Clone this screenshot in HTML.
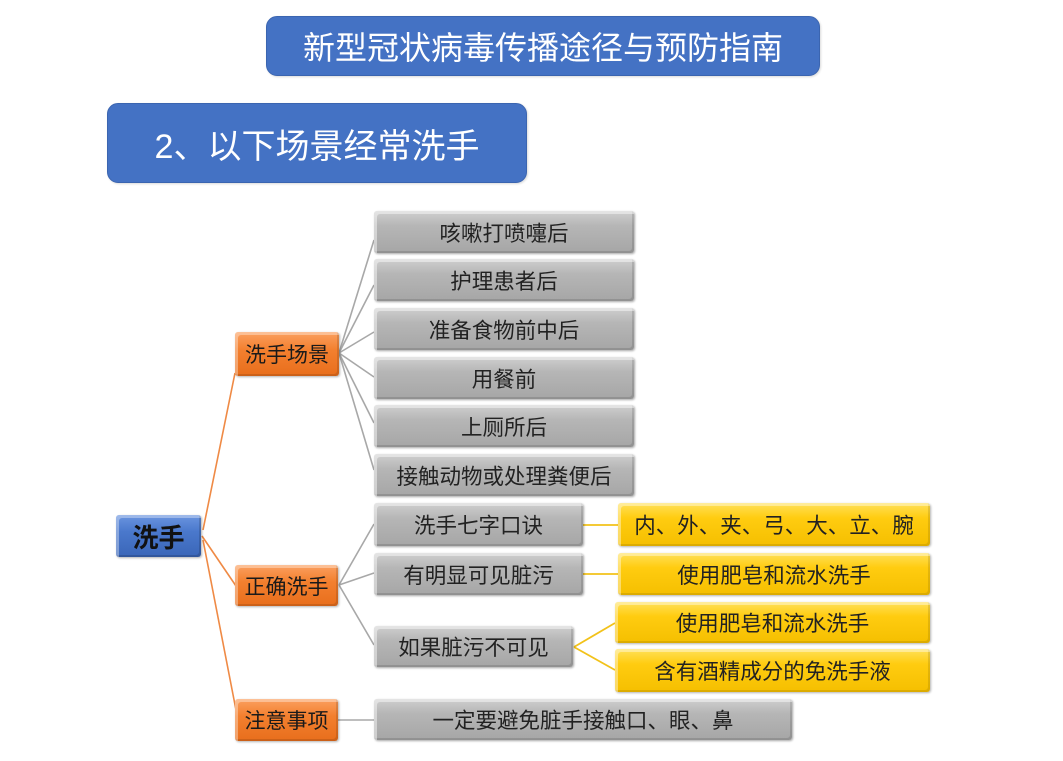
<!DOCTYPE html>
<html><head><meta charset="utf-8">
<style>
html,body{margin:0;padding:0;background:#fff;}
body{width:1063px;height:761px;position:relative;overflow:hidden;font-family:"Liberation Sans","Noto Sans CJK SC",sans-serif;}
.b{position:absolute;display:flex;align-items:center;justify-content:center;box-sizing:border-box;white-space:nowrap;}
.blue{background:#4472c4;border:1px solid #3b65b0;color:#fff;border-radius:11px;box-shadow:1px 1px 2px rgba(0,0,0,.15);}
.g{background:linear-gradient(#cfcfcf 0%,#b6b6b6 35%,#a6a6a6 100%);border-radius:3px;color:#222;font-size:21.5px;
 box-shadow:inset 3px 3px 0 rgba(255,255,255,.45),inset -2px -2px 0 rgba(0,0,0,.12),1px 1px 2px rgba(0,0,0,.35);}
.y{background:linear-gradient(#ffe15a 0%,#ffcc10 35%,#f5bf00 100%);border-radius:3px;color:#222;font-size:21.5px;
 box-shadow:inset 3px 3px 0 rgba(255,255,255,.4),inset -2px -2px 0 rgba(0,0,0,.1),1px 1px 2px rgba(0,0,0,.3);}
.o{background:linear-gradient(#fba060 0%,#f3802f 40%,#e86e1c 100%);border-radius:3px;color:#1a1a1a;font-size:21px;
 box-shadow:inset 3px 3px 0 rgba(255,255,255,.35),inset -2px -2px 0 rgba(0,0,0,.12),1px 1px 2px rgba(0,0,0,.3);}
.r{background:linear-gradient(#6b95e0 0%,#4a78cc 40%,#3a66b8 100%);border-radius:3px;color:#111;font-size:26px;font-weight:bold;
 box-shadow:inset 3px 3px 0 rgba(255,255,255,.35),inset -2px -2px 0 rgba(0,0,0,.15),1px 1px 2px rgba(0,0,0,.3);}
svg{position:absolute;left:0;top:0;}
</style></head><body>
<svg width="1063" height="761">
 <g stroke="#ef8a45" stroke-width="1.6" fill="none">
  <path d="M203 530 L235 373"/>
  <path d="M202 536 L236 586"/>
  <path d="M203 540 L236 710"/>
 </g>
 <g stroke="#a8a8a8" stroke-width="1.6" fill="none">
  <path d="M339 353 L374 240"/>
  <path d="M339 353 L374 285"/>
  <path d="M339 353 L374 332"/>
  <path d="M339 353 L374 377"/>
  <path d="M339 353 L374 423"/>
  <path d="M339 353 L374 470"/>
  <path d="M339 585 L374 524"/>
  <path d="M339 585 L374 573"/>
  <path d="M339 585 L374 645"/>
  <path d="M338 720 L374 720"/>
 </g>
 <g stroke="#f2c21a" stroke-width="1.8" fill="none">
  <path d="M583 525 L618 525"/>
  <path d="M583 574 L618 574"/>
  <path d="M574 647 L615 623"/>
  <path d="M574 647 L615 670"/>
 </g>
</svg>

<div class="b blue" style="left:266px;top:16px;width:554px;height:60px;font-size:32px;">新型冠状病毒传播途径与预防指南</div>
<div class="b blue" style="left:107px;top:103px;width:420px;height:80px;font-size:34px;">2、以下场景经常洗手</div>

<div class="b r" style="left:116px;top:515px;width:85px;height:42px;">洗手</div>

<div class="b o" style="left:235px;top:332px;width:104px;height:44px;">洗手场景</div>
<div class="b o" style="left:235px;top:565px;width:103px;height:41px;">正确洗手</div>
<div class="b o" style="left:235px;top:699px;width:103px;height:42px;">注意事项</div>

<div class="b g" style="left:374px;top:211px;width:260px;height:42px;">咳嗽打喷嚏后</div>
<div class="b g" style="left:374px;top:259px;width:260px;height:42px;">护理患者后</div>
<div class="b g" style="left:374px;top:308px;width:260px;height:42px;">准备食物前中后</div>
<div class="b g" style="left:374px;top:357px;width:260px;height:42px;">用餐前</div>
<div class="b g" style="left:374px;top:405px;width:260px;height:42px;">上厕所后</div>
<div class="b g" style="left:374px;top:454px;width:260px;height:42px;">接触动物或处理粪便后</div>

<div class="b g" style="left:374px;top:503px;width:209px;height:43px;">洗手七字口诀</div>
<div class="b g" style="left:374px;top:553px;width:209px;height:42px;">有明显可见脏污</div>
<div class="b g" style="left:374px;top:626px;width:199px;height:41px;">如果脏污不可见</div>
<div class="b g" style="left:374px;top:699px;width:418px;height:41px;">一定要避免脏手接触口、眼、鼻</div>

<div class="b y" style="left:618px;top:503px;width:312px;height:43px;">内、外、夹、弓、大、立、腕</div>
<div class="b y" style="left:618px;top:553px;width:312px;height:42px;">使用肥皂和流水洗手</div>
<div class="b y" style="left:615px;top:602px;width:315px;height:41px;">使用肥皂和流水洗手</div>
<div class="b y" style="left:615px;top:649px;width:315px;height:43px;">含有酒精成分的免洗手液</div>
</body></html>
